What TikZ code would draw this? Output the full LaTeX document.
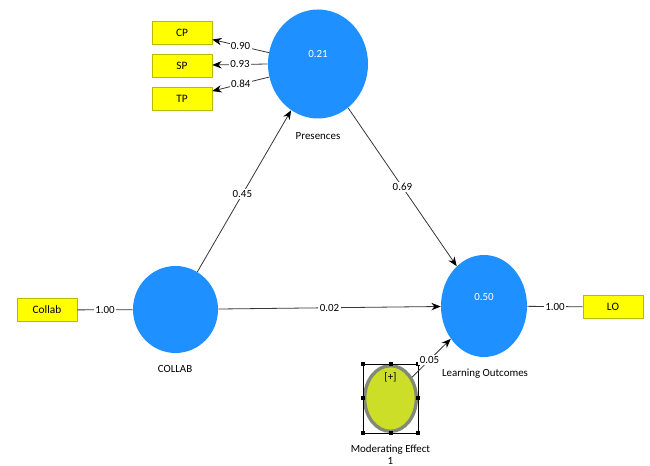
\documentclass[tikz,border=0pt]{standalone}
\usepackage{fontspec}
\setmainfont{Carlito}
\usepackage{tikz}
\usetikzlibrary{positioning,shapes.geometric,arrows.meta}
\definecolor{lvblue}{RGB}{30,144,255}
\definecolor{indyellow}{RGB}{255,255,0}
\definecolor{indborder}{RGB}{185,185,0}
\definecolor{modfill}{RGB}{205,222,40}
\definecolor{modborder}{RGB}{128,138,118}
\definecolor{linkgray}{RGB}{55,55,55}

\begin{document}
\begin{tikzpicture}[x=0.75pt,y=-0.75pt,
    every node/.style={font=\fontsize{8.2}{9}\selectfont},
    latent/.style={ellipse, fill=lvblue, inner sep=0pt},
    indicator/.style={rectangle, draw=indborder, fill=indyellow, minimum width=45pt, minimum height=17.5pt, inner sep=0pt, font=\fontsize{8.5}{9}\selectfont},
    link/.style={draw=linkgray, line width=0.6pt},
    arr/.style={link, -{Stealth[length=7pt,width=5.5pt,black]}},
    coef/.style={fill=white, inner sep=1pt},
    handle/.style={rectangle, fill=black, minimum size=3pt, inner sep=0pt}
]
    \fill[white] (0,0) rectangle (650,466);
    \useasboundingbox (0,0) rectangle (650,466);
    % Nodes
    \node[latent, minimum width=75pt, minimum height=81.75pt] (pres) at (318,64) {};
    \node[text=white] (presval) at (318,54) {0.21};
    \node (preslabel) at (318,136) {Presences};
    \node[latent, minimum width=63.75pt, minimum height=65.25pt] (collab) at (175.5,309.5) {};
    \node (collablabel) at (175,369) {COLLAB};
    \node[latent, minimum width=64.5pt, minimum height=76.5pt] (lo) at (484,306) {};
    \node[text=white] (loval) at (484,297) {0.50};
    \node (lolabel) at (485,374) {Learning Outcomes};
    \node[indicator] (cp) at (182,32.5) {CP};
    \node[indicator] (sp) at (182,65.5) {SP};
    \node[indicator] (tp) at (182,98.5) {TP};
    \node[indicator] (collabbox) at (47,310) {Collab};
    \node[indicator] (lobox) at (613,307) {LO};
    % Moderating effect, selected
    \node[ellipse, draw=modborder, line width=2.5pt, fill=modfill, minimum width=38.75pt, minimum height=49.25pt, inner sep=0pt] (mod) at (390.5,398.5) {};
    \node (modsign) at (390.5,377) {[+]};
    \node[draw, line width=0.4pt, minimum width=41.25pt, minimum height=51.75pt, inner sep=0pt] (modsel) at (390.5,398.5) {};
    \foreach \a [count=\i] in {north west,north,north east,east,south east,south,south west,west}
        \node[handle] (h\i) at (modsel.\a) {};
    \node[align=center] (modlabel) at (390.5,455) {Moderating Effect\\1};
    % Arrows
    \draw[arr] (pres.167) -- node[coef] {0.90} (cp);
    \draw[arr] (pres.180) -- node[coef] {0.93} (sp);
    \draw[arr] (pres.195) -- node[coef] {0.84} (tp);
    \draw[link] (collabbox) -- node[coef] {1.00} (collab);
    \draw[link] (lo) -- node[coef] {1.00} (lobox);
    \draw[arr] (collab) -- node[coef, pos=0.48] {0.45} (pres);
    \draw[arr] (pres) -- node[coef, pos=0.5] {0.69} (lo);
    \draw[arr] (collab) -- node[coef] {0.02} (lo);
    \draw[arr] (mod) -- node[coef, pos=0.45] {0.05} (lo);
\end{tikzpicture}
\end{document}
